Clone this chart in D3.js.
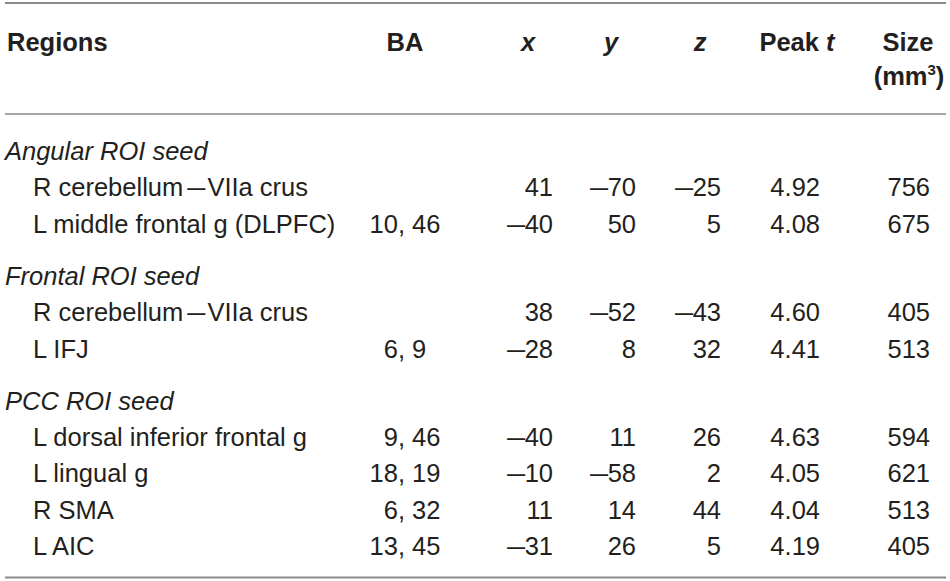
<!DOCTYPE html>
<html><head><meta charset="utf-8">
<script src="https://cdn.jsdelivr.net/npm/d3@7/dist/d3.min.js"></script>
<style>
html,body{margin:0;padding:0;background:#fff;}
svg text{font-family:"Liberation Sans",Arial,Helvetica,sans-serif;fill:#231f20;}
</style></head>
<body><svg id="chart" width="950" height="581"></svg>
<script>
// ---- data ----
const groups = ["Angular ROI seed", "Frontal ROI seed", "PCC ROI seed"];
const regions = ["R cerebellum\u2014VIIa crus", "L middle frontal g (DLPFC)",
                 "R cerebellum\u2014VIIa crus", "L IFJ",
                 "L dorsal inferior frontal g", "L lingual g", "R SMA", "L AIC"];
const regionGroup = [0, 0, 1, 1, 2, 2, 2, 2];
const ba = ["", "10, 46", "", "6, 9", "9, 46", "18, 19", "6, 32", "13, 45"];
const xs = [41, -40, 38, -28, -40, -10, 11, -31];
const ys = [-70, 50, -52, 8, 11, -58, 14, 26];
const zs = [-25, 5, -43, 32, 26, 2, 44, 5];
const peakT = ["4.92", "4.08", "4.60", "4.41", "4.63", "4.05", "4.04", "4.19"];
const sizes = [756, 675, 405, 513, 594, 621, 513, 405];
const headers = ["Regions", "BA", "x", "y", "z", "Peak t", "Size"];

const svg = d3.select("#chart");
const FS = 25.5;
const DASH_SCALE = 1.28;

// Build row list: group label rows + data rows
const rows = [];
groups.forEach((g, gi) => {
  rows.push({type: "group", label: g, gi});
  regions.forEach((r, i) => { if (regionGroup[i] === gi) rows.push({type: "data", i, gi}); });
});
rows.forEach((r, k) => r.pos = k + r.gi * 0.448);

const yRow = d3.scaleLinear().domain([0, 10 + 2 * 0.448]).range([160, 555]);

// column anchors
const colCenter = d3.scaleOrdinal().domain(headers).range([7, 405, 528, 611, 700, 797, 908]);
const colRight = d3.scaleOrdinal().domain(["x", "y", "z", "Peak t", "Size"]).range([553, 636, 721, 820, 930]);
const baComma = 405;

// rules
const rules = [3, 114, 577.5];
svg.selectAll("line.rule").data(rules).join("line")
  .attr("class", "rule")
  .attr("x1", 5).attr("x2", 946)
  .attr("y1", d => d).attr("y2", d => d)
  .attr("stroke", "#8a8a8a").attr("stroke-width", d => d === 114 ? 1.6 : 2);

// header
const hg = svg.append("g").attr("font-size", FS).attr("font-weight", "bold");
hg.append("text").attr("x", colCenter("Regions")).attr("y", 51).text("Regions");
hg.append("text").attr("x", colCenter("BA")).attr("y", 51).attr("text-anchor", "middle").text("BA");
["x", "y", "z"].forEach(h => hg.append("text").attr("x", colCenter(h)).attr("y", 51)
  .attr("text-anchor", "middle").attr("font-style", "italic").text(h));
const pk = hg.append("text").attr("x", colCenter("Peak t")).attr("y", 51).attr("text-anchor", "middle");
pk.append("tspan").text("Peak ");
pk.append("tspan").attr("font-style", "italic").text("t");
hg.append("text").attr("x", colCenter("Size")).attr("y", 51).attr("text-anchor", "middle").text("Size");
const mm = hg.append("text").attr("x", colCenter("Size") + 1).attr("y", 85).attr("text-anchor", "middle");
mm.append("tspan").text("(mm");
mm.append("tspan").attr("font-size", 15).attr("dy", -10).text("3");
mm.append("tspan").attr("dy", 10).text(")");

// body
const body = svg.append("g").attr("font-size", FS);
const rowG = body.selectAll("g.row").data(rows).join("g")
  .attr("class", "row")
  .attr("transform", d => `translate(0,${yRow(d.pos)})`);

rowG.filter(d => d.type === "group").append("text")
  .attr("x", 5).attr("font-style", "italic").text(d => d.label);

// wide dash helper: draws an en dash horizontally stretched, right edge at xr
function wideDash(g, xr) {
  g.append("text").attr("text-anchor", "end")
    .attr("transform", `translate(${xr},0) scale(${DASH_SCALE},1)`)
    .text("\u2013");
}

const dr = rowG.filter(d => d.type === "data");
dr.each(function(d) {
  const g = d3.select(this);
  const label = regions[d.i];
  if (label.includes("\u2014")) {
    const [a, b] = label.split("\u2014");
    const t1 = g.append("text").attr("x", 33).text(a);
    const w1 = t1.node().getComputedTextLength();
    const dashW = 0.556 * FS * DASH_SCALE;
    const xDashEnd = 33 + w1 + 4 + dashW;
    wideDash(g, xDashEnd);
    g.append("text").attr("x", xDashEnd + 2).text(b);
  } else {
    g.append("text").attr("x", 33).text(label);
  }
  if (ba[d.i] !== "") {
    const parts = ba[d.i].split(",");
    g.append("text").attr("x", baComma).attr("text-anchor", "end").text(parts[0] + ",");
    g.append("text").attr("x", baComma).attr("text-anchor", "start").text("\u00a0" + parts[1].trim());
  }
  const numCell = (v, xr) => {
    const t = g.append("text").attr("x", xr).attr("text-anchor", "end").text(String(Math.abs(v)));
    if (v < 0) {
      const w = t.node().getComputedTextLength();
      wideDash(g, xr - w + 0.5);
    }
  };
  numCell(xs[d.i], colRight("x"));
  numCell(ys[d.i], colRight("y"));
  numCell(zs[d.i], colRight("z"));
  g.append("text").attr("x", colRight("Peak t")).attr("text-anchor", "end").text(peakT[d.i]);
  g.append("text").attr("x", colRight("Size")).attr("text-anchor", "end").text(sizes[d.i]);
});
</script></body></html>
